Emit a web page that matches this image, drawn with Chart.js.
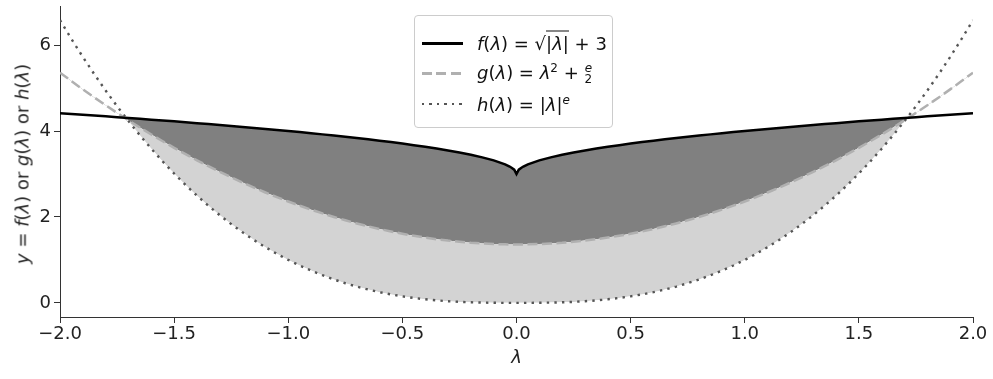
<!DOCTYPE html>
<html>
<head>
<meta charset="utf-8">
<script src="https://cdn.jsdelivr.net/npm/chart.js@4/dist/chart.umd.min.js"></script>
<style>
  body { margin: 0; background: #fff; }
  #wrap { position: relative; width: 993px; height: 379px; font-family: "DejaVu Sans", sans-serif; }
  #legend {
    position: absolute; left: 414px; top: 15px; width: 197px; height: 111px;
    border: 1px solid #cccccc; border-radius: 4px; background: rgba(255,255,255,0.85);
    font-size: 18px; color: #111;
  }
  .row { position: absolute; left: 0; height: 30px; width: 100%; }
  .sample { position: absolute; left: 7px; width: 41px; top: 50%; }
  .txt { position: absolute; left: 62px; top: 50%; transform: translateY(-50%); white-space: nowrap; }
  .frac { display: inline-block; vertical-align: middle; text-align: center; font-size: 12px; line-height: 11px; }
  .frac span { display: block; }
  .over { border-top: 1px solid #111; padding-top: 1px; }
  #ytitle {
    position: absolute; left: 22px; top: 164px; transform: translate(-50%, -50%) rotate(-90deg);
    white-space: nowrap; font-size: 18px; color: #222;
  }
</style>
</head>
<body>
<div id="wrap">
  <canvas id="chart" width="993" height="379"></canvas>
  <div id="ytitle"><i>y</i> = <i>f</i>(<i>λ</i>) or <i>g</i>(<i>λ</i>) or <i>h</i>(<i>λ</i>)</div>
  <div id="legend">
    <div class="row" style="top:12px">
      <div class="sample" style="height:2.5px; margin-top:-1px; background:#000"></div>
      <div class="txt"><i>f</i>(<i>λ</i>) = √<span class="over">|<i>λ</i>|</span> + 3</div>
    </div>
    <div class="row" style="top:42px">
      <div class="sample" style="height:2.5px; margin-top:-1px; background:repeating-linear-gradient(to right, #b0b0b0 0 10px, transparent 10px 14.5px)"></div>
      <div class="txt"><i>g</i>(<i>λ</i>) = <i>λ</i><sup style="font-size:12px">2</sup> + <span class="frac"><span><i>e</i></span><span>2</span></span></div>
    </div>
    <div class="row" style="top:73px">
      <div class="sample" style="height:2.4px; margin-top:-1px; background:repeating-linear-gradient(to right, #555 0 2.4px, transparent 2.4px 7.5px)"></div>
      <div class="txt"><i>h</i>(<i>λ</i>) = |<i>λ</i>|<sup style="font-size:12px"><i>e</i></sup></div>
    </div>
  </div>
</div>
<script>
const lambda = [
  -2.00, -1.95, -1.90, -1.85, -1.80, -1.75, -1.70, -1.65, -1.60, -1.55,
  -1.50, -1.45, -1.40, -1.35, -1.30, -1.25, -1.20, -1.15, -1.10, -1.05,
  -1.00, -0.95, -0.90, -0.85, -0.80, -0.75, -0.70, -0.65, -0.60, -0.55,
  -0.50, -0.45, -0.40, -0.35, -0.30, -0.25, -0.20, -0.15, -0.10, -0.05,
  -0.03, -0.02, -0.01, 0.00, 0.01, 0.02, 0.03,
  0.05, 0.10, 0.15, 0.20, 0.25, 0.30, 0.35, 0.40, 0.45, 0.50,
  0.55, 0.60, 0.65, 0.70, 0.75, 0.80, 0.85, 0.90, 0.95, 1.00,
  1.05, 1.10, 1.15, 1.20, 1.25, 1.30, 1.35, 1.40, 1.45, 1.50,
  1.55, 1.60, 1.65, 1.70, 1.75, 1.80, 1.85, 1.90, 1.95, 2.00
];
const fVals = [
  4.414, 4.396, 4.378, 4.360, 4.342, 4.323, 4.304, 4.285, 4.265, 4.245,
  4.225, 4.204, 4.183, 4.162, 4.140, 4.118, 4.095, 4.072, 4.049, 4.025,
  4.000, 3.975, 3.949, 3.922, 3.894, 3.866, 3.837, 3.806, 3.775, 3.742,
  3.707, 3.671, 3.632, 3.592, 3.548, 3.500, 3.447, 3.387, 3.316, 3.224,
  3.173, 3.141, 3.100, 3.000, 3.100, 3.141, 3.173,
  3.224, 3.316, 3.387, 3.447, 3.500, 3.548, 3.592, 3.632, 3.671, 3.707,
  3.742, 3.775, 3.806, 3.837, 3.866, 3.894, 3.922, 3.949, 3.975, 4.000,
  4.025, 4.049, 4.072, 4.095, 4.118, 4.140, 4.162, 4.183, 4.204, 4.225,
  4.245, 4.265, 4.285, 4.304, 4.323, 4.342, 4.360, 4.378, 4.396, 4.414
];
const gVals = [
  5.359, 5.162, 4.969, 4.782, 4.599, 4.422, 4.249, 4.082, 3.919, 3.762,
  3.609, 3.462, 3.319, 3.182, 3.049, 2.922, 2.799, 2.682, 2.569, 2.462,
  2.359, 2.262, 2.169, 2.082, 1.999, 1.922, 1.849, 1.782, 1.719, 1.662,
  1.609, 1.562, 1.519, 1.482, 1.449, 1.422, 1.399, 1.382, 1.369, 1.362,
  1.360, 1.360, 1.359, 1.359, 1.359, 1.360, 1.360,
  1.362, 1.369, 1.382, 1.399, 1.422, 1.449, 1.482, 1.519, 1.562, 1.609,
  1.662, 1.719, 1.782, 1.849, 1.922, 1.999, 2.082, 2.169, 2.262, 2.359,
  2.462, 2.569, 2.682, 2.799, 2.922, 3.049, 3.182, 3.319, 3.462, 3.609,
  3.762, 3.919, 4.082, 4.249, 4.422, 4.599, 4.782, 4.969, 5.162, 5.359
];
const hVals = [
  6.581, 6.143, 5.724, 5.324, 4.942, 4.578, 4.231, 3.901, 3.588, 3.291,
  3.011, 2.746, 2.496, 2.261, 2.040, 1.834, 1.641, 1.462, 1.296, 1.142,
  1.000, 0.870, 0.751, 0.643, 0.545, 0.457, 0.379, 0.310, 0.249, 0.197,
  0.152, 0.114, 0.083, 0.058, 0.038, 0.023, 0.013, 0.006, 0.002, 0.000,
  0.000, 0.000, 0.000, 0.000, 0.000, 0.000, 0.000,
  0.000, 0.002, 0.006, 0.013, 0.023, 0.038, 0.058, 0.083, 0.114, 0.152,
  0.197, 0.249, 0.310, 0.379, 0.457, 0.545, 0.643, 0.751, 0.870, 1.000,
  1.142, 1.296, 1.462, 1.641, 1.834, 2.040, 2.261, 2.496, 2.746, 3.011,
  3.291, 3.588, 3.901, 4.231, 4.578, 4.942, 5.324, 5.724, 6.143, 6.581
];
const xTicks = [-2.0, -1.5, -1.0, -0.5, 0.0, 0.5, 1.0, 1.5, 2.0];
const yTicks = [0, 2, 4, 6];

function pts(vals) {
  return lambda.map((x, i) => ({ x: x, y: vals[i] }));
}

function fmt(v, digits) {
  return v.toFixed(digits).replace('-', '\u2212');
}

const canvas = document.getElementById('chart');
const axisColor = '#333333';

new Chart(canvas, {
  type: 'line',
  data: {
    datasets: [
      {
        label: 'f',
        data: pts(fVals),
        borderColor: '#000000',
        borderWidth: 2.5,
        pointRadius: 0,
        tension: 0,
        fill: { target: 1, above: 'rgb(128,128,128)', below: 'rgba(0,0,0,0)' }
      },
      {
        label: 'g',
        data: pts(gVals),
        borderColor: '#b0b0b0',
        borderWidth: 2.5,
        borderDash: [10, 4.5],
        pointRadius: 0,
        tension: 0,
        fill: { target: 2, above: 'rgb(211,211,211)', below: 'rgba(0,0,0,0)' }
      },
      {
        label: 'h',
        data: pts(hVals),
        borderColor: '#555555',
        borderWidth: 2.4,
        borderDash: [2.4, 5.2],
        pointRadius: 0,
        tension: 0,
        fill: false
      }
    ]
  },
  options: {
    responsive: false,
    animation: false,
    layout: { padding: { top: 6, right: 20, left: 0, bottom: 0 } },
    plugins: {
      legend: { display: false },
      tooltip: { enabled: false },
      filler: { drawTime: 'beforeDatasetsDraw' }
    },
    scales: {
      x: {
        type: 'linear',
        min: -2,
        max: 2,
        afterBuildTicks: (scale) => { scale.ticks = xTicks.map(v => ({ value: v })); },
        afterFit: (scale) => { scale.height = 62; },
        grid: { drawOnChartArea: false, tickLength: 6, color: axisColor, tickWidth: 1 },
        border: { color: axisColor, width: 1 },
        ticks: {
          color: '#222',
          padding: 1,
          font: { family: 'DejaVu Sans', size: 18 },
          callback: (v) => fmt(v, 1)
        },
        title: {
          display: true,
          text: 'λ',
          color: '#222',
          padding: { top: 0, bottom: 10 },
          font: { family: 'DejaVu Sans', size: 18, style: 'italic' }
        }
      },
      y: {
        type: 'linear',
        min: -0.329,
        max: 6.91,
        afterBuildTicks: (scale) => { scale.ticks = yTicks.map(v => ({ value: v })); },
        afterFit: (scale) => { scale.width = 60; scale.paddingTop = 0; scale.paddingBottom = 0; },
        grid: { drawOnChartArea: false, tickLength: 6, color: axisColor, tickWidth: 1 },
        border: { color: axisColor, width: 1 },
        ticks: {
          color: '#222',
          padding: 3,
          font: { family: 'DejaVu Sans', size: 18 },
          callback: (v) => fmt(v, 0)
        },
        title: { display: false }
      }
    }
  }
});
</script>
</body>
</html>
